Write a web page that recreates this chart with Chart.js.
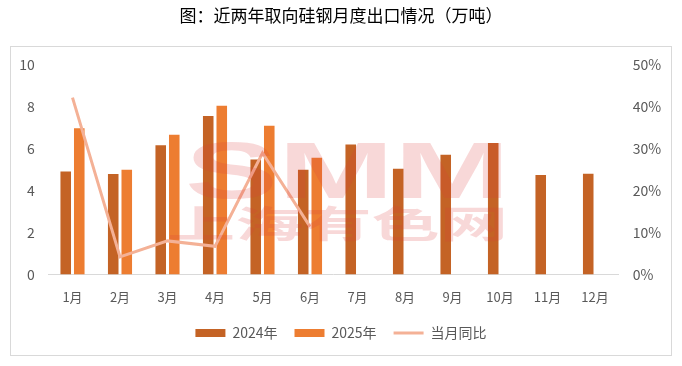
<!DOCTYPE html>
<html>
<head>
<meta charset="utf-8">
<script src="https://cdn.jsdelivr.net/npm/chart.js@4"></script>
<style>
  html, body { margin: 0; padding: 0; background: #fff; }
  #wrap { width: 682px; height: 366px; }
</style>
</head>
<body>
<div id="wrap"><canvas id="exportChart" width="682" height="366"></canvas></div>
<script>
const months = ['1月', '2月', '3月', '4月', '5月', '6月', '7月', '8月', '9月', '10月', '11月', '12月'];
const exports2024 = [4.92, 4.79, 6.17, 7.56, 5.49, 5.0, 6.2, 5.05, 5.71, 6.27, 4.75, 4.81];
const exports2025 = [6.98, 5.0, 6.67, 8.05, 7.1, 5.57, null, null, null, null, null, null];
const yoyPct = [42.2, 4.2, 8.0, 6.7, 29.0, 11.4, null, null, null, null, null, null];
const leftTicks = [0, 2, 4, 6, 8, 10];
const rightTicks = [0, 10, 20, 30, 40, 50];

const FONT = '"Noto Sans CJK SC", "Noto Sans", sans-serif';

// frame around the chart body (title sits above it)
const frame = {
  id: 'frame',
  beforeDraw(chart) {
    const ctx = chart.ctx;
    ctx.save();
    ctx.strokeStyle = '#D9D9D9';
    ctx.lineWidth = 1;
    ctx.strokeRect(10.5, 46.5, 661, 309);
    ctx.restore();
  }
};

// SMM watermark on top of the bars
const watermark = {
  id: 'watermark',
  afterDatasetsDraw(chart) {
    const ctx = chart.ctx;
    ctx.save();
    ctx.fillStyle = 'rgba(222, 60, 60, 0.2)';
    ctx.textBaseline = 'alphabetic';
    ctx.font = 'bold 80px "Liberation Sans", Arial, sans-serif';
    let w = ctx.measureText('SMM').width;
    ctx.translate(185, 198);
    ctx.scale(325 / w, 1);
    ctx.fillText('SMM', 0, 0);
    ctx.restore();

    ctx.save();
    ctx.fillStyle = 'rgba(222, 60, 60, 0.2)';
    ctx.textBaseline = 'middle';
    ctx.font = 'bold 37px ' + FONT;
    w = ctx.measureText('上海有色网').width;
    ctx.translate(167, 224);
    ctx.scale(341 / w, 1);
    ctx.fillText('上海有色网', 0, 0);
    ctx.restore();
  }
};

new Chart(document.getElementById('exportChart'), {
  type: 'bar',
  data: {
    labels: months,
    datasets: [
      {
        label: '2024年',
        data: exports2024,
        backgroundColor: '#C46325',
        borderWidth: 0,
        yAxisID: 'y',
        order: 1,
        categoryPercentage: 0.57,
        barPercentage: 0.78
      },
      {
        label: '2025年',
        data: exports2025,
        backgroundColor: '#ED7D31',
        borderWidth: 0,
        yAxisID: 'y',
        order: 1,
        categoryPercentage: 0.57,
        barPercentage: 0.78
      },
      {
        type: 'line',
        label: '当月同比',
        data: yoyPct,
        borderColor: '#F4B196',
        backgroundColor: '#F4B196',
        borderWidth: 3,
        pointRadius: 0,
        tension: 0,
        spanGaps: false,
        yAxisID: 'y1',
        order: 0
      }
    ]
  },
  options: {
    responsive: false,
    animation: false,
    devicePixelRatio: 1,
    layout: { padding: { left: 10, right: 10, top: 0, bottom: 16 } },
    plugins: {
      title: {
        display: true,
        text: '图：近两年取向硅钢月度出口情况（万吨）',
        color: '#000',
        font: { family: FONT, size: 17, weight: 'normal' },
        padding: { top: 5, bottom: 39.6 }
      },
      legend: {
        position: 'bottom',
        labels: {
          color: '#595959',
          font: { family: FONT, size: 14 },
          usePointStyle: true,
          pointStyleWidth: 30,
          boxHeight: 8,
          padding: 17,
          sort: (a, b) => a.datasetIndex - b.datasetIndex,
          generateLabels(chart) {
            return chart.data.datasets.map((ds, i) => ({
              text: ds.label,
              datasetIndex: i,
              fillStyle: ds.type === 'line' ? ds.borderColor : ds.backgroundColor,
              strokeStyle: ds.type === 'line' ? ds.borderColor : ds.backgroundColor,
              lineWidth: ds.type === 'line' ? 3 : 0,
              pointStyle: ds.type === 'line' ? 'line' : 'rect',
              fontColor: '#595959',
              hidden: false
            }));
          }
        }
      },
      tooltip: { enabled: false }
    },
    scales: {
      x: {
        afterFit: (s) => { s.height = 34.6; },
        grid: { display: false, drawTicks: false },
        border: { display: true, color: '#D9D9D9', width: 1 },
        ticks: { color: '#595959', font: { family: FONT, size: 13 }, padding: 15 }
      },
      y: {
        position: 'left',
        min: 0,
        max: 10,
        afterBuildTicks: (s) => { s.ticks = leftTicks.map(v => ({ value: v })); },
        afterFit: (s) => { s.width = 38.75; },
        grid: { display: false, drawTicks: false },
        border: { display: false },
        ticks: { color: '#595959', font: { family: FONT, size: 14 }, padding: 14 }
      },
      y1: {
        position: 'right',
        min: 0,
        max: 50,
        afterBuildTicks: (s) => { s.ticks = rightTicks.map(v => ({ value: v })); },
        afterFit: (s) => { s.width = 53.25; },
        grid: { display: false, drawTicks: false },
        border: { display: false },
        ticks: {
          color: '#595959',
          font: { family: FONT, size: 14 },
          padding: 14,
          callback: (v) => v + '%'
        }
      }
    }
  },
  plugins: [frame, watermark]
});
</script>
</body>
</html>
